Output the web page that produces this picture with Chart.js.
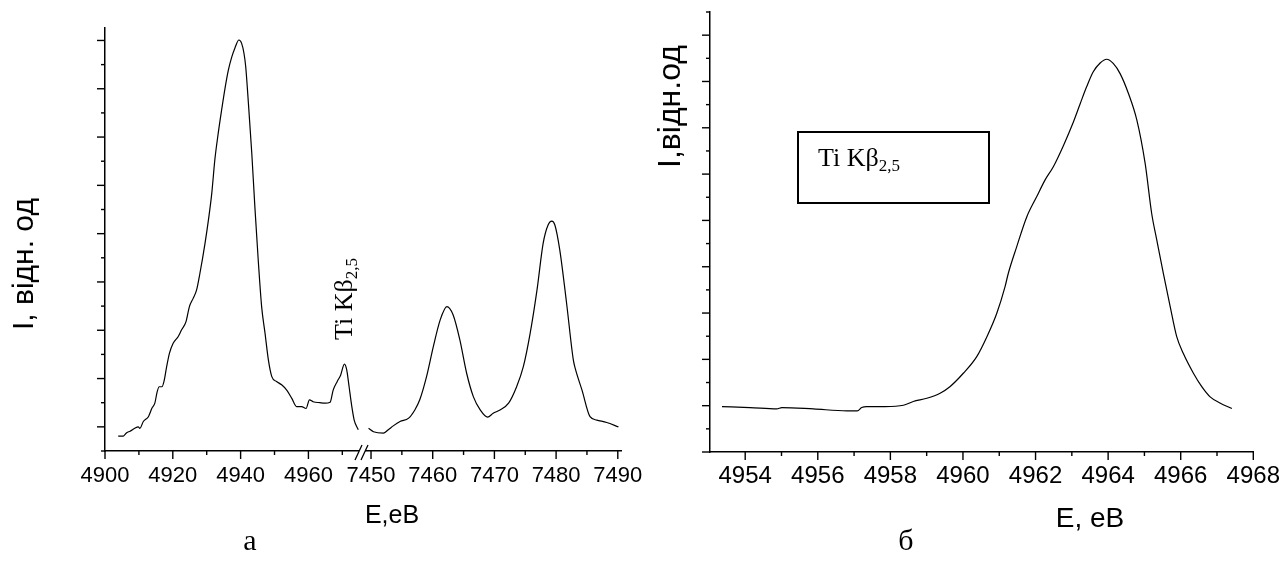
<!DOCTYPE html>
<html>
<head>
<meta charset="utf-8">
<script src="https://cdn.jsdelivr.net/npm/chart.js@4.4.1/dist/chart.umd.min.js"></script>
<style>
    body { margin: 0; background: #fff; }
    #wrap { position: relative; width: 1279px; height: 561px; overflow: hidden; background: #fff; }
    canvas { position: absolute; top: 0; }
    .t { position: absolute; white-space: nowrap; line-height: 1; color: #000; }
    .sans { font-family: "Liberation Sans", Arial, sans-serif; }
    .serif { font-family: "Liberation Serif", "Times New Roman", serif; }
    .rot { transform-origin: 0 0; transform: rotate(-90deg); }
    .mid { transform: translateX(-50%); }
    .sub { font-size: 17px; position: relative; top: 5px; }
    .box { position: absolute; border: 2px solid #000; box-sizing: border-box; }
</style>
</head>
<body>
<div id="wrap">
    <canvas id="left" width="660" height="561" style="left:0"></canvas>
    <canvas id="right" width="639" height="561" style="left:640px"></canvas>

    <div class="t sans rot" style="font-size:30px; left:8px; top:330px">I, відн. од</div>
    <div class="t sans rot" style="font-size:32px; left:653px; top:168px">I,відн.од</div>
    <div class="t sans mid" style="font-size:25px; left:392px; top:502px">E,еВ</div>
    <div class="t sans mid" style="font-size:28px; left:1090px; top:504px">E, еВ</div>
    <div class="t serif mid" style="font-size:30px; left:250px; top:525px">а</div>
    <div class="t serif mid" style="font-size:30px; left:906px; top:525px">б</div>

    <div class="t serif rot" style="font-size:26px; left:331px; top:340px">Ti Kβ<span class="sub">2,5</span></div>
    <div class="box" style="left:797px; top:131px; width:193px; height:73px"></div>
    <div class="t serif" style="font-size:26px; left:818px; top:145px">Ti Kβ<span class="sub">2,5</span></div>
</div>
<script>
// panel a, before the axis break (E, eV / intensity, arb. units)
var leftE1 = [4903.9, 4905.4, 4906.4, 4907.4, 4908.8, 4909.8, 4910.3, 4911.3, 4912.8, 4913.8,
    4914.7, 4915.4, 4916.0, 4916.8, 4917.4, 4918.2, 4919.0, 4920.1, 4921.6, 4922.6,
    4923.9, 4924.9, 4926.0, 4927.0, 4928.0, 4929.5, 4930.5, 4931.5, 4932.4, 4933.4,
    4934.4, 4935.4, 4936.4, 4937.4, 4938.3, 4939.5, 4940.3, 4941.0, 4941.5, 4942.3,
    4943.3, 4944.2, 4945.2, 4946.2, 4947.2, 4948.2, 4949.2, 4950.6, 4952.1, 4953.6,
    4955.1, 4956.5, 4958.0, 4959.3, 4960.3, 4961.4, 4963.4, 4964.9, 4966.4, 4967.3,
    4968.5, 4969.5, 4970.6, 4971.3, 4972.0, 4972.8, 4973.5, 4974.7];
var leftI1 = [3.1, 3.1, 3.8, 4.1, 4.7, 5.0, 4.7, 6.1, 7.1, 8.8,
    9.9, 12.3, 13.3, 13.3, 14.4, 17.5, 20.2, 22.3, 23.7, 25.1,
    26.8, 29.9, 31.6, 33.3, 36.8, 43.0, 47.8, 53.4, 60.3, 65.8,
    70.6, 75.1, 78.9, 81.6, 83.4, 85.1, 84.4, 82.3, 79.6, 72.0,
    61.6, 50.6, 39.5, 29.9, 24.4, 18.8, 15.4, 14.4, 13.7, 12.6,
    10.9, 9.2, 9.2, 8.8, 10.6, 10.2, 10.0, 9.9, 10.1, 12.6,
    14.4, 15.7, 18.0, 16.8, 13.3, 9.2, 6.4, 4.4];

// panel a, after the break
var leftE2 = [7449.6, 7450.4, 7452.0, 7452.8, 7453.6, 7454.7, 7456.1, 7457.1, 7457.9, 7459.0,
    7460.1, 7461.2, 7462.3, 7463.3, 7464.4, 7465.5, 7466.6, 7467.7, 7468.9, 7469.8,
    7470.9, 7472.3, 7473.6, 7474.7, 7475.8, 7476.9, 7477.9, 7478.7, 7479.3, 7479.8,
    7480.6, 7481.7, 7482.8, 7483.1, 7484.2, 7485.5, 7486.6, 7488.2, 7490.1];
var leftI2 = [4.7, 4.0, 3.7, 4.4, 5.2, 6.1, 6.8, 8.5, 10.6, 15.4,
    21.6, 27.1, 29.9, 28.2, 23.0, 16.1, 11.2, 8.5, 7.0, 7.8,
    8.5, 9.9, 13.3, 17.5, 24.4, 33.3, 43.0, 46.8, 47.6, 46.8,
    41.6, 30.6, 18.8, 17.1, 12.6, 7.1, 6.4, 5.9, 5.0];

// panel б
var rightE = [4953.36, 4954.13, 4954.87, 4955.01, 4955.88, 4956.80, 4957.09, 4957.21, 4957.35, 4957.85,
    4958.36, 4958.63, 4959.00, 4959.37, 4959.64, 4960.01, 4960.38, 4960.66, 4960.93, 4961.16,
    4961.25, 4961.48, 4961.76, 4962.03, 4962.26, 4962.49, 4962.77, 4963.04, 4963.23, 4963.41,
    4963.59, 4963.78, 4963.96, 4964.14, 4964.33, 4964.56, 4964.79, 4965.02, 4965.20, 4965.34,
    4965.52, 4965.71, 4965.89, 4966.07, 4966.35, 4966.58, 4966.81, 4967.08, 4967.41];
var rightI = [0.98, 0.96, 0.93, 0.96, 0.93, 0.89, 0.89, 0.96, 0.98, 0.98,
    1.01, 1.09, 1.16, 1.27, 1.41, 1.70, 2.06, 2.49, 2.99, 3.57,
    3.86, 4.43, 5.08, 5.51, 5.87, 6.16, 6.62, 7.12, 7.52, 7.89,
    8.21, 8.40, 8.48, 8.39, 8.17, 7.74, 7.17, 6.23, 5.15, 4.58,
    3.86, 3.14, 2.49, 2.13, 1.70, 1.41, 1.19, 1.06, 0.94];

// labelled (major) ticks
var leftTicks1 = [4900, 4920, 4940, 4960];
var leftTicks2 = [7450, 7460, 7470, 7480, 7490];
var rightTicks = [4954, 4956, 4958, 4960, 4962, 4964, 4966, 4968];
var leftYTicks = [5, 15, 25, 35, 45, 55, 65, 75, 85];
var rightYTicks = [0, 1, 2, 3, 4, 5, 6, 7, 8, 9];

var SANS = '"Liberation Sans", Arial, sans-serif';

function points(xs, ys) {
    return xs.map(function (x, i) { return {x: x, y: ys[i]}; });
}

// major ticks + the half-step ticks between them (and one beyond each end)
function minorsOf(major) {
    var step = major[1] - major[0];
    var out = [major[0] - step / 2];
    major.forEach(function (v) { out.push(v + step / 2); });
    return out;
}

var tickMarks = {
    id: 'tickMarks',
    afterDraw: function (chart, args, opts) {
        var ctx = chart.ctx;
        ctx.save();
        ctx.strokeStyle = '#000';
        ctx.lineWidth = 1.4;
        (opts.marks || []).forEach(function (m) {
            var s = chart.scales[m.id];
            var draw = function (vals, len) {
                vals.forEach(function (v) {
                    if (v < s.min - 1e-9 || v > s.max + 1e-9) return;
                    var p = s.getPixelForValue(v);
                    ctx.beginPath();
                    if (s.isHorizontal()) {
                        ctx.moveTo(p, s.top);
                        ctx.lineTo(p, s.top + len);
                    } else {
                        ctx.moveTo(s.right, p);
                        ctx.lineTo(s.right - len, p);
                    }
                    ctx.stroke();
                });
            };
            draw(m.major, 8);
            draw(minorsOf(m.major), 4);
        });
        ctx.restore();
    }
};

// the "//" where panel a jumps from 4976 to 7449 eV
var axisBreak = {
    id: 'axisBreak',
    afterDraw: function (chart) {
        var s = chart.scales.x1;
        if (!s) return;
        var bx = s.right, y0 = s.top;
        var ctx = chart.ctx;
        ctx.save();
        ctx.fillStyle = '#fff';
        ctx.fillRect(bx - 4, y0 - 3, 6, 6);
        ctx.strokeStyle = '#000';
        ctx.lineWidth = 1.3;
        ctx.beginPath();
        ctx.moveTo(bx - 8, y0 + 9);
        ctx.lineTo(bx - 1, y0 - 6);
        ctx.moveTo(bx - 2, y0 + 9);
        ctx.lineTo(bx + 5, y0 - 6);
        ctx.stroke();
        ctx.restore();
    }
};

function xScale(min, max, labels, size, pad, extra) {
    var opts = {
        type: 'linear',
        position: 'bottom',
        min: min,
        max: max,
        grid: {display: false, drawTicks: false},
        border: {display: true, color: '#000', width: 1.5},
        ticks: {
            color: '#000',
            font: {family: SANS, size: size},
            padding: pad,
            autoSkip: false,
            maxRotation: 0,
            callback: function (v) { return String(v); }
        },
        afterBuildTicks: function (s) {
            s.ticks = labels.map(function (v) { return {value: v}; });
        },
        afterFit: function (s) {
            s.height = 60;
            s.paddingLeft = 0;
            s.paddingRight = 0;
        }
    };
    return Object.assign(opts, extra || {});
}

function yScale(min, max) {
    return {
        type: 'linear',
        position: 'left',
        min: min,
        max: max,
        grid: {display: false, drawTicks: false},
        border: {display: true, color: '#000', width: 1.5},
        ticks: {display: false},
        afterFit: function (s) {
            s.width = 40;
            s.paddingTop = 0;
            s.paddingBottom = 0;
        }
    };
}

var lineStyle = {
    borderColor: '#000',
    borderWidth: 1.2,
    pointRadius: 0,
    fill: false,
    cubicInterpolationMode: 'monotone'
};

new Chart(document.getElementById('left'), {
    type: 'line',
    data: {
        datasets: [
            Object.assign({data: points(leftE1, leftI1), xAxisID: 'x1', yAxisID: 'y'}, lineStyle),
            Object.assign({data: points(leftE2, leftI2), xAxisID: 'x2', yAxisID: 'y'}, lineStyle)
        ]
    },
    options: {
        responsive: false,
        animation: false,
        events: [],
        layout: {padding: {left: 65, top: 28, right: 39, bottom: 50}},
        plugins: {
            legend: {display: false},
            tooltip: {enabled: false},
            tickMarks: {marks: [
                {id: 'x1', major: leftTicks1},
                {id: 'x2', major: leftTicks2},
                {id: 'y', major: leftYTicks}
            ]}
        },
        scales: {
            x1: xScale(4900, 4976.1, leftTicks1, 22, 12, {stack: 'a', stackWeight: 1}),
            x2: xScale(7448.7, 7490.52, leftTicks2, 22, 12, {stack: 'a', stackWeight: 1}),
            y: yScale(0, 87.58)
        }
    },
    plugins: [tickMarks, axisBreak]
});

new Chart(document.getElementById('right'), {
    type: 'line',
    data: {
        datasets: [
            Object.assign({data: points(rightE, rightI), xAxisID: 'x', yAxisID: 'y'}, lineStyle)
        ]
    },
    options: {
        responsive: false,
        animation: false,
        events: [],
        layout: {padding: {left: 30, top: 12, right: 25.7, bottom: 49}},
        plugins: {
            legend: {display: false},
            tooltip: {enabled: false},
            tickMarks: {marks: [
                {id: 'x', major: rightTicks},
                {id: 'y', major: rightYTicks}
            ]}
        },
        scales: {
            x: xScale(4953.03, 4968, rightTicks, 24, 10),
            y: yScale(0, 9.5)
        }
    },
    plugins: [tickMarks]
});
</script>
</body>
</html>
